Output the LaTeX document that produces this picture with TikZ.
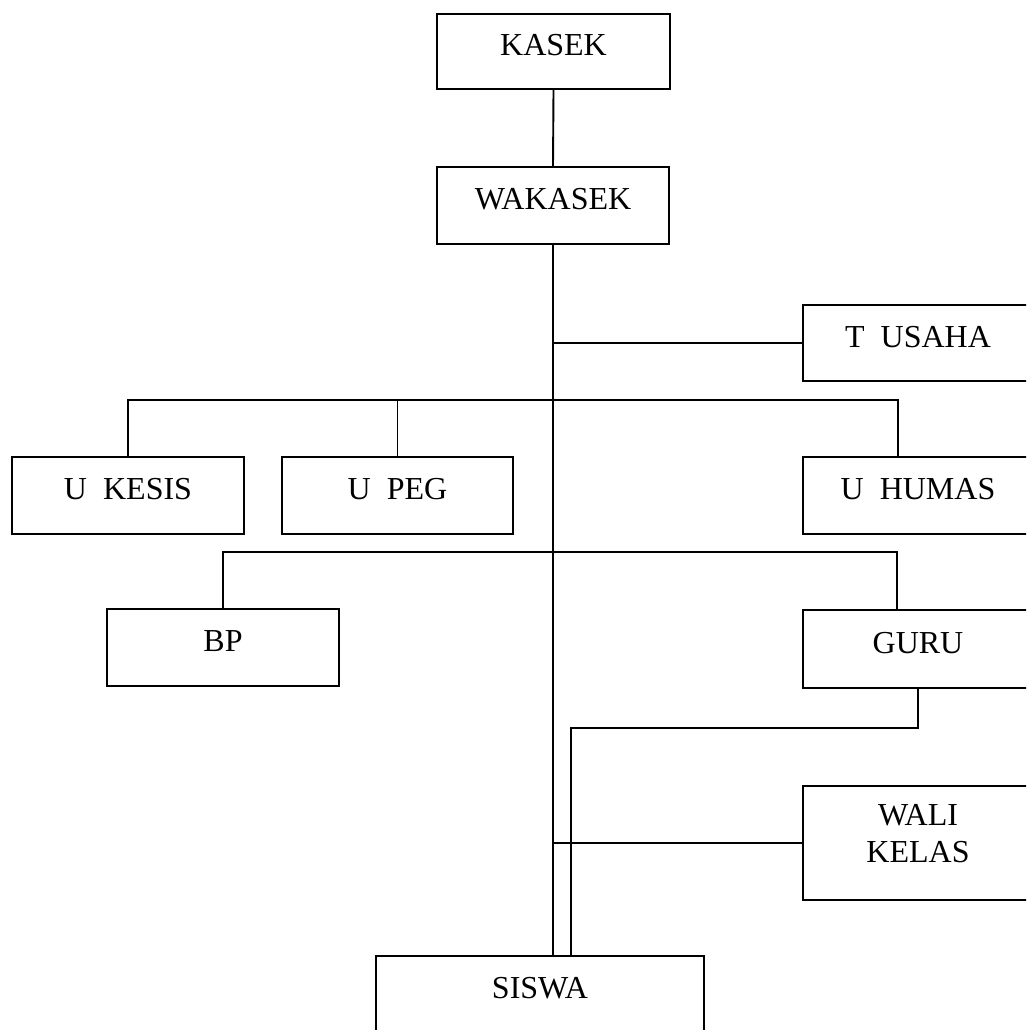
\documentclass[tikz,border=0pt]{standalone}
\usepackage{fontspec}
\setmainfont{Liberation Serif}
\usetikzlibrary{calc}
\newcommand\orgtxt[1]{\raisebox{-4pt}[0pt][0pt]{#1}}
\begin{document}
\begin{tikzpicture}[x=1pt,y=-1pt,
  orgbox/.style={draw, line width=1.9pt, inner sep=0pt, font=\fontsize{32}{38}\selectfont},
  conn/.style={line width=1.9pt}]
\clip (0,0) rectangle (1026,1030);
\fill[white] (0,0) rectangle (1026,1030);
% boxes
\node[orgbox, minimum width=233pt, minimum height=75pt] (kasek) at (553.5,51.5) {\orgtxt{KASEK}};
\node[orgbox, minimum width=232pt, minimum height=77pt] (wakasek) at (553,205.5) {\orgtxt{WAKASEK}};
\node[orgbox, minimum width=230pt, minimum height=76pt] (tusaha) at (918,343) {\orgtxt{T\ \ USAHA}};
\node[orgbox, minimum width=232pt, minimum height=77pt] (ukesis) at (128,495.5) {\orgtxt{U\ \ KESIS}};
\node[orgbox, minimum width=231pt, minimum height=77pt] (upeg) at (397.5,495.5) {\orgtxt{U\ \ PEG}};
\node[orgbox, minimum width=230pt, minimum height=77pt] (uhumas) at (918,495.5) {\orgtxt{U\ \ HUMAS}};
\node[orgbox, minimum width=232pt, minimum height=77pt] (bp) at (223,647.5) {\orgtxt{BP}};
\node[orgbox, minimum width=230pt, minimum height=78pt] (guru) at (918,649) {\orgtxt{GURU}};
\node[orgbox, minimum width=230pt, minimum height=114pt] (wali) at (918,843)
  {\raisebox{-19pt}[0pt][0pt]{\fontsize{32}{37}\selectfont\begin{tabular}[b]{@{}c@{}}WALI\\KELAS\end{tabular}}};
\node[orgbox, minimum width=328pt, minimum height=77pt] (siswa) at (540,994.5) {\orgtxt{SISWA}};
% helper coordinates
\coordinate (busA) at (0,400);
\coordinate (busB) at (0,552);
\coordinate (humasdrop) at ($(uhumas.north)+(-20,0)$);
\coordinate (gurudrop) at ($(guru.north)+(-21,0)$);
\coordinate (g1) at (571,728);
% connectors
\draw[conn] (kasek.south) -- (wakasek.north);
\draw[conn] (wakasek.south) -- (wakasek.south |- siswa.north);
\draw[conn] (tusaha.west) -- (tusaha.west -| wakasek.south);
\draw[conn] (ukesis.north) |- (busA -| humasdrop) -- (humasdrop);
\draw[conn] (upeg.north) -- (upeg.north |- busA);
\draw[conn] (bp.north) |- (busB -| gurudrop) -- (gurudrop);
\draw[conn] (guru.south) |- (g1) -- (g1 |- siswa.north);
\draw[conn] (wali.west) -- (wali.west -| wakasek.south);
\end{tikzpicture}
\end{document}
